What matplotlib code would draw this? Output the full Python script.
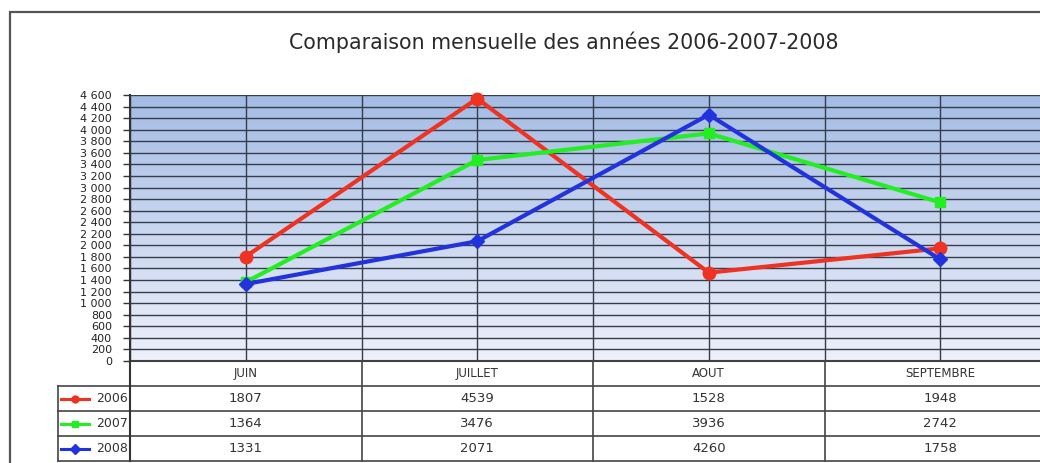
import numpy as np
import matplotlib
matplotlib.use("Agg")
import matplotlib.pyplot as plt
from matplotlib.lines import Line2D

# ---- data ----
months = ["JUIN", "JUILLET", "AOUT", "SEPTEMBRE"]
years = ["2006", "2007", "2008"]
v2006 = [1807, 4539, 1528, 1948]
v2007 = [1364, 3476, 3936, 2742]
v2008 = [1331, 2071, 4260, 1758]
series = [v2006, v2007, v2008]
colors = ["#ee3322", "#22ee22", "#2233dd"]
markers = ["o", "s", "D"]
msizes = [9, 7, 7]
yticks = list(range(0, 4601, 200))
title = "Comparaison mensuelle des années 2006-2007-2008"

plt.rcParams['font.family'] = ['DejaVu Sans']

W, H = 1040, 463
fig = plt.figure(figsize=(W / 100, H / 100), dpi=100)

def fx(px):
    return px / W

def fy(py):
    return 1 - py / H

# outer frame
frame = plt.Rectangle((fx(10), fy(470)), fx(1100), fy(12) - fy(470),
                      transform=fig.transFigure, fill=False,
                      edgecolor="#555555", lw=1.6)
fig.add_artist(frame)

fig.text(0.5 * (fx(288) + fx(840)), fy(42), title, ha="center", va="center",
         fontsize=14.8, color="#2a2a2a")

# main axes
L, R, T, B = 130, 1056, 95, 361
ax = fig.add_axes([fx(L), fy(B), fx(R - L), fy(T) - fy(B)])
x = np.arange(len(months))
ax.set_xlim(-0.5, len(months) - 0.5)
ax.set_ylim(0, 4600)

# gradient background
top = np.array([164, 188, 228]) / 255
bot = np.array([238, 240, 250]) / 255
t = np.linspace(0, 1, 256)[:, None, None]
grad = bot + (top - bot) * t
ax.imshow(grad, extent=[0, 1, 0, 1], transform=ax.transAxes, origin="lower",
          aspect="auto", zorder=0)

for yv in yticks:
    ax.axhline(yv, color="#353d4d", lw=1.0, zorder=1)
for xv in np.arange(-0.5, len(months), 0.5):
    ax.axvline(xv, color="#353d4d", lw=1.0, zorder=1)

for vals, c, m, ms in zip(series, colors, markers, msizes):
    ax.plot(x, vals, color=c, lw=3.0, marker=m, ms=ms, zorder=3,
            solid_joinstyle="round", clip_on=False)

ax.set_yticks(yticks)
ax.set_yticklabels([f"{v:,}".replace(",", " ") for v in yticks],
                   fontsize=8, color="#222222")
ax.tick_params(axis="y", length=5, width=1, color="#333333", pad=8)
ax.set_xticks([])
for s in ["top", "right"]:
    ax.spines[s].set_visible(False)
ax.spines["left"].set_color("#333333")
ax.spines["left"].set_linewidth(1.5)
ax.spines["bottom"].set_color("#333333")
ax.spines["bottom"].set_linewidth(1.5)

# data table
TB = 461
tab = fig.add_axes([fx(L), fy(TB), fx(R - L), fy(B) - fy(TB)])
tab.set_xlim(-0.5, len(months) - 0.5)
tab.set_ylim(0, 4)
tab.axis("off")
unit = (R - L) / len(months)
leg_left = -0.5 - (L - 58) / unit
lc = "#444444"
# horizontal lines
tab.plot([-0.5, len(months) - 0.5], [4, 4], color=lc, lw=1.2, clip_on=False)
for yv in [3, 2, 1, 0]:
    tab.plot([leg_left, len(months) - 0.5], [yv, yv], color=lc, lw=1.2,
             clip_on=False)
# vertical lines
tab.plot([-0.5, -0.5], [0, 4], color="#333333", lw=1.5, clip_on=False)
tab.plot([leg_left, leg_left], [0, 3], color=lc, lw=1.2, clip_on=False)
for xv in np.arange(0.5, len(months), 1):
    tab.plot([xv, xv], [0, 4], color=lc, lw=1.2, clip_on=False)

for i, mth in enumerate(months):
    tab.text(i, 3.5, mth, ha="center", va="center", fontsize=8.5,
             color="#333333")
for r, (yr, vals, c, m) in enumerate(zip(years, series, colors, markers)):
    yc = 2.5 - r
    for i, v in enumerate(vals):
        tab.text(i, yc, str(v), ha="center", va="center", fontsize=9.5,
                 color="#333333")
    x0 = leg_left + 3 / unit
    x1 = leg_left + 31 / unit
    tab.add_line(Line2D([x0, x1], [yc, yc], color=c, lw=2.2, clip_on=False))
    tab.add_line(Line2D([(x0 + x1) / 2], [yc], color=c, marker=m, ms=5,
                        clip_on=False))
    tab.text(-0.5 - 2 / unit, yc, yr, ha="right", va="center", fontsize=9,
             color="#333333")

fig.savefig("out.png", dpi=100)
